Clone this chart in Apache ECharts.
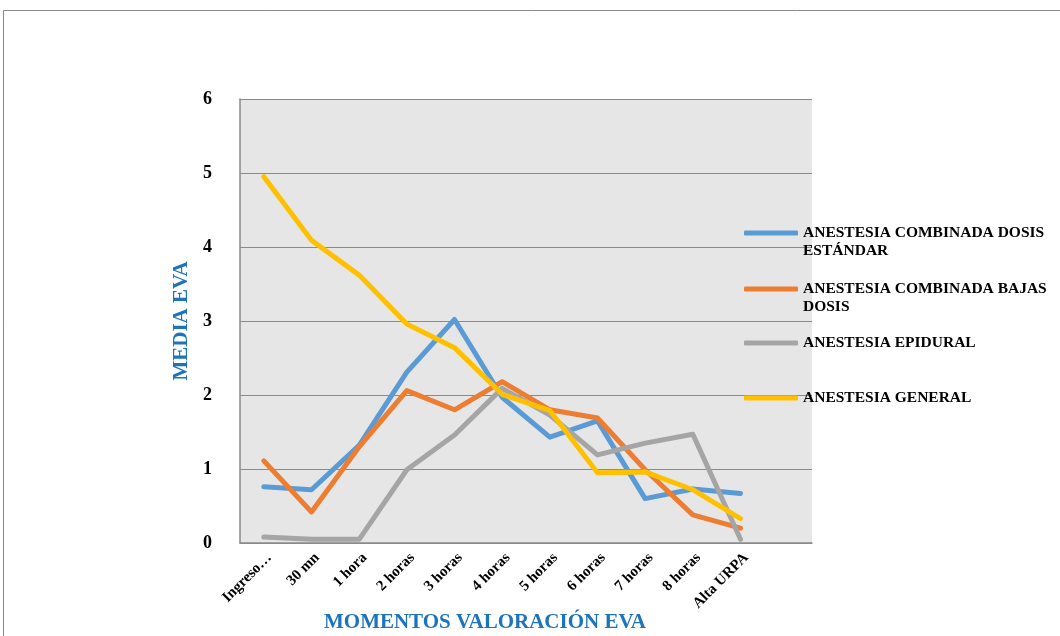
<!DOCTYPE html>
<html>
<head>
<meta charset="utf-8">
<script src="https://cdn.jsdelivr.net/npm/echarts@6/dist/echarts.min.js"></script>
<style>
  html, body { margin: 0; padding: 0; background: #fff; }
  #chart { width: 1060px; height: 636px; }
</style>
</head>
<body>
<div id="chart"></div>
<script>
// Moments at which pain (EVA) was assessed; the last slot is left empty
const categories = ['Ingreso…', '30 mn', '1 hora', '2 horas', '3 horas', '4 horas',
  '5 horas', '6 horas', '7 horas', '8 horas', 'Alta URPA', ''];

// Mean EVA for each anaesthesia group
const combinadaEstandar = [0.76, 0.72, 1.32, 2.31, 3.02, 1.97, 1.43, 1.65, 0.60, 0.73, 0.67];
const combinadaBajas    = [1.11, 0.42, 1.30, 2.06, 1.80, 2.18, 1.80, 1.69, 0.99, 0.38, 0.20];
const epidural          = [0.08, 0.05, 0.05, 0.99, 1.46, 2.09, 1.73, 1.19, 1.35, 1.47, 0.05];
const general           = [4.95, 4.09, 3.62, 2.96, 2.64, 2.01, 1.79, 0.95, 0.96, 0.72, 0.33];

const yTicks = [0, 1, 2, 3, 4, 5, 6];

const seriesNames = [
  'ANESTESIA COMBINADA DOSIS ESTÁNDAR',
  'ANESTESIA COMBINADA BAJAS DOSIS',
  'ANESTESIA EPIDURAL',
  'ANESTESIA GENERAL'
];
// Legend text; wrapped entries start with a blank line so the key sits on the first line
const legendLabels = [
  '\nANESTESIA COMBINADA DOSIS\nESTÁNDAR',
  '\nANESTESIA COMBINADA BAJAS\nDOSIS',
  'ANESTESIA EPIDURAL',
  'ANESTESIA GENERAL'
];
const seriesData = [combinadaEstandar, combinadaBajas, epidural, general];
const colors = ['#5B9BD5', '#ED7D31', '#A5A5A5', '#FFC000'];

const serif = '"Liberation Serif", "DejaVu Serif", serif';
const titleBlue = '#1C73BE';
const legendKeyY = [233, 289, 343, 398];
const legendLineHeight = 18;

const chart = echarts.init(document.getElementById('chart'), null, { renderer: 'canvas' });

const legends = seriesNames.map((name, i) => {
  const lines = legendLabels[i].split('\n').length;
  return {
    left: 744,
    top: legendKeyY[i] - lines * legendLineHeight / 2,
    orient: 'vertical',
    icon: 'roundRect',
    itemWidth: 54,
    itemHeight: 5,
    itemGap: 5,
    padding: 0,
    data: [{ name: name }],
    formatter: () => legendLabels[i],
    textStyle: {
      fontFamily: serif,
      fontWeight: 'bold',
      fontSize: 15.5,
      color: '#000',
      lineHeight: legendLineHeight
    }
  };
});

chart.setOption({
  animation: false,
  color: colors,
  title: {
    text: 'MOMENTOS VALORACIÓN EVA',
    left: 485,
    top: 612,
    textAlign: 'center',
    padding: 0,
    textStyle: { fontFamily: serif, fontWeight: 'bold', fontSize: 21, color: titleBlue }
  },
  graphic: [{
    type: 'rect',
    silent: true,
    z: -10,
    shape: { x: 3.5, y: 10.5, width: 1200, height: 800 },
    style: { fill: 'none', stroke: '#8a8a8a', lineWidth: 1 }
  }],
  legend: legends,
  grid: {
    left: 240, right: 248, top: 99, bottom: 93,
    show: true, backgroundColor: '#E6E6E6', borderWidth: 0
  },
  xAxis: {
    type: 'category',
    data: categories,
    boundaryGap: true,
    axisLine: { lineStyle: { color: '#8a8a8a', width: 1.5 } },
    axisTick: { show: false },
    axisLabel: {
      interval: 0,
      rotate: 45,
      margin: 18,
      padding: [0, -8, 0, 0],
      fontFamily: serif,
      fontWeight: 'bold',
      fontSize: 15,
      color: '#000'
    }
  },
  yAxis: {
    type: 'value',
    min: yTicks[0],
    max: yTicks[yTicks.length - 1],
    interval: 1,
    name: 'MEDIA EVA',
    nameLocation: 'middle',
    nameRotate: 90,
    nameGap: 44,
    nameTextStyle: { fontFamily: serif, fontWeight: 'bold', fontSize: 21, color: titleBlue },
    axisLine: { show: true, lineStyle: { color: '#8a8a8a', width: 1.5 } },
    axisTick: { show: false },
    splitLine: { lineStyle: { color: '#8a8a8a', width: 1.2 } },
    axisLabel: {
      margin: 28,
      fontFamily: serif,
      fontWeight: 'bold',
      fontSize: 18,
      color: '#000'
    }
  },
  series: seriesNames.map((name, i) => ({
    name: name,
    type: 'line',
    data: seriesData[i],
    symbol: 'none',
    lineStyle: { width: 5, color: colors[i], cap: 'round', join: 'round' },
    itemStyle: { color: colors[i] }
  }))
});
</script>
</body>
</html>
